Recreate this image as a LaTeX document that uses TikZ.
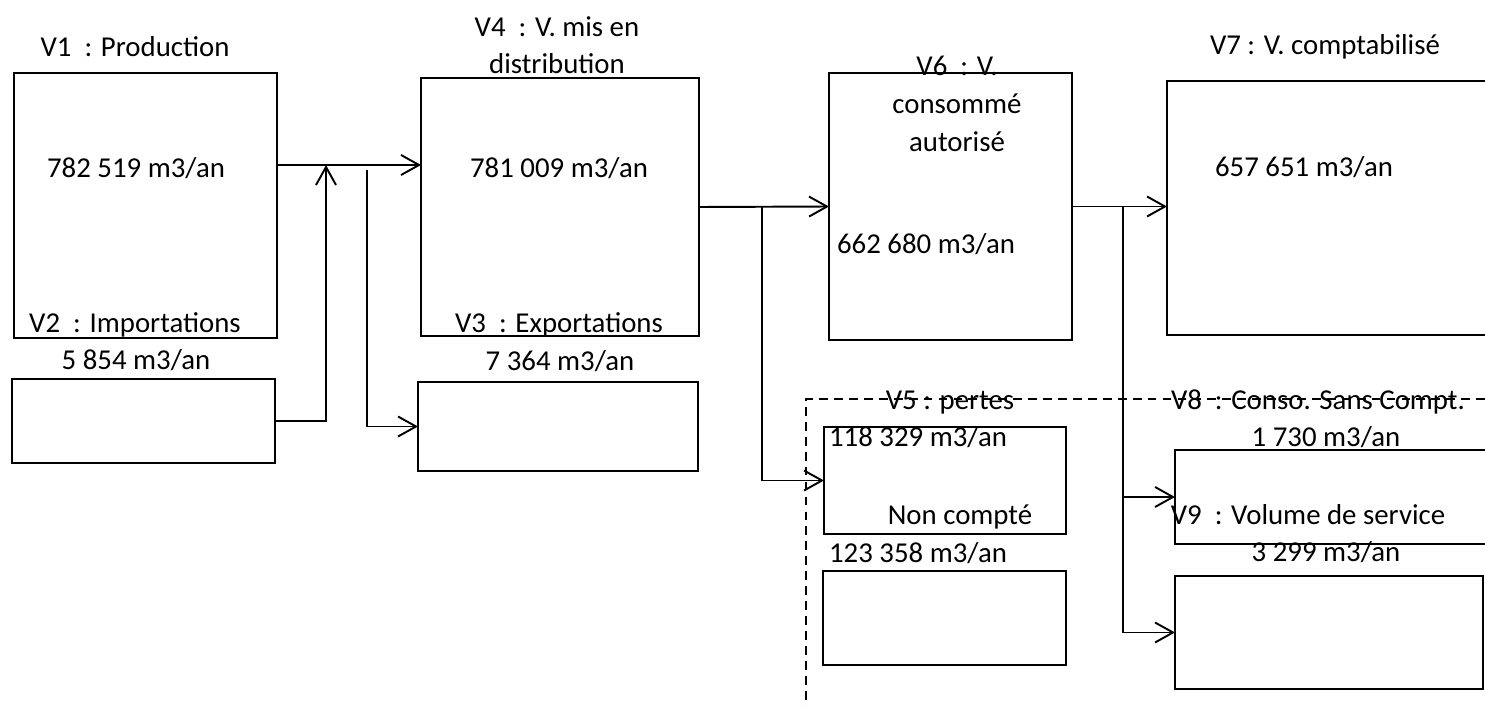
\documentclass[tikz,border=0pt]{standalone}
\usepackage{fontspec}
\setmainfont{Carlito}
\usetikzlibrary{arrows.meta}

\begin{document}
\begin{tikzpicture}[x=0.02cm, y=-0.02cm,
	box/.style={rectangle, draw, line width=1.1pt, outer sep=0pt, inner sep=0pt},
	txt/.style={anchor=base, inner sep=0pt, align=center, font=\fontsize{16.4}{19.2}\selectfont},
	conn/.style={line width=1.1pt, -{Straight Barb[length=3.6mm, width=4mm, line width=1.1pt]}},
	frame/.style={line width=0.6pt, dash pattern=on 5pt off 3.5pt}]

	\path[use as bounding box] (0, 0) rectangle (1485, 706);
	\clip (0, 0) rectangle (1485, 706);

	% boxes
	\node (v1) [box, minimum width=5.26cm, minimum height=5.30cm] at (145.5, 205.5) {};
	\node (v2) [box, minimum width=5.26cm, minimum height=1.68cm] at (143.5, 421) {};
	\node (v4) [box, minimum width=5.56cm, minimum height=5.16cm] at (560, 207) {};
	\node (v3) [box, minimum width=5.60cm, minimum height=1.78cm] at (558, 426.5) {};
	\node (v6) [box, minimum width=4.86cm, minimum height=5.34cm] at (950.5, 206.5) {};
	\node (v7) [box, minimum width=6.76cm, minimum height=5.08cm] at (1336, 208) {};
	\node (v5) [box, minimum width=4.84cm, minimum height=2.14cm] at (945, 480.5) {};
	\node (nc) [box, minimum width=4.86cm, minimum height=1.88cm] at (944.5, 618) {};
	\node (v8) [box, minimum width=6.60cm, minimum height=1.88cm] at (1340, 497) {};
	\node (v9) [box, minimum width=6.16cm, minimum height=2.26cm] at (1329, 632.5) {};

	% dashed frame of the losses
	\draw[frame] (1485, 399) -- (806, 399) -- (806, 706);

	% texts (multi-line ones sit on their last line)
	\node (t1) [txt] at (135, 57) {V1~ : Production};
	\node (q1) [txt] at (136, 177) {782 519 m3/an};
	\node (t2) [txt] at (135, 332) {V2~ : Importations};
	\node (q2) [txt] at (136, 369) {5 854 m3/an};
	\node (t4) [txt, font=\fontsize{16.4}{21.2}\selectfont] at (557, 74) {V4~ : V. mis en\\distribution};
	\node (q4) [txt] at (559, 177) {781 009 m3/an};
	\node (t3) [txt] at (559, 332) {V3~ : Exportations};
	\node (q3) [txt] at (560, 370) {7 364 m3/an};
	\node (t6) [txt, font=\fontsize{16.4}{21.7}\selectfont] at (957, 152) {V6~ : V.\\consommé\\autorisé};
	\node (q6) [txt] at (926, 254) {662 680 m3/an};
	\node (t7) [txt] at (1325, 55) {V7 : V. comptabilisé};
	\node (q7) [txt] at (1304, 176) {657 651 m3/an};
	\node (t5) [txt] at (950, 409) {V5 : pertes};
	\node (q5) [txt] at (918, 446) {118 329 m3/an};
	\node (tn) [txt] at (960, 524) {Non compté};
	\node (qn) [txt] at (918, 562) {123 358 m3/an};
	\node (t8) [txt] at (1318, 409) {V8~ : Conso. Sans Compt.};
	\node (q8) [txt] at (1326, 446) {1 730 m3/an};
	\node (t9) [txt] at (1308, 524) {V9~ : Volume de service};
	\node (q9) [txt] at (1326, 561) {3 299 m3/an};

	% branch points
	\coordinate (a1) at (326, 165);
	\coordinate (a2) at (367, 170);
	\coordinate (b1) at (762, 207);
	\coordinate (c1) at (1123, 207);

	\draw[conn] (v1.east |- a1) -- (v4.west |- a1);
	\draw[conn] (v2.east) -| (a1);
	\draw[conn] (a2) |- (v3.west);
	\draw[conn] (v4.east) -- (v6.west);
	\draw[conn] (b1) |- (v5.west);
	\draw[conn] (v6.east) -- (v7.west |- v6.east);
	\draw[conn] (c1) |- (v8.west);
	\draw[conn] (c1) |- (v9.west);

\end{tikzpicture}
\end{document}
